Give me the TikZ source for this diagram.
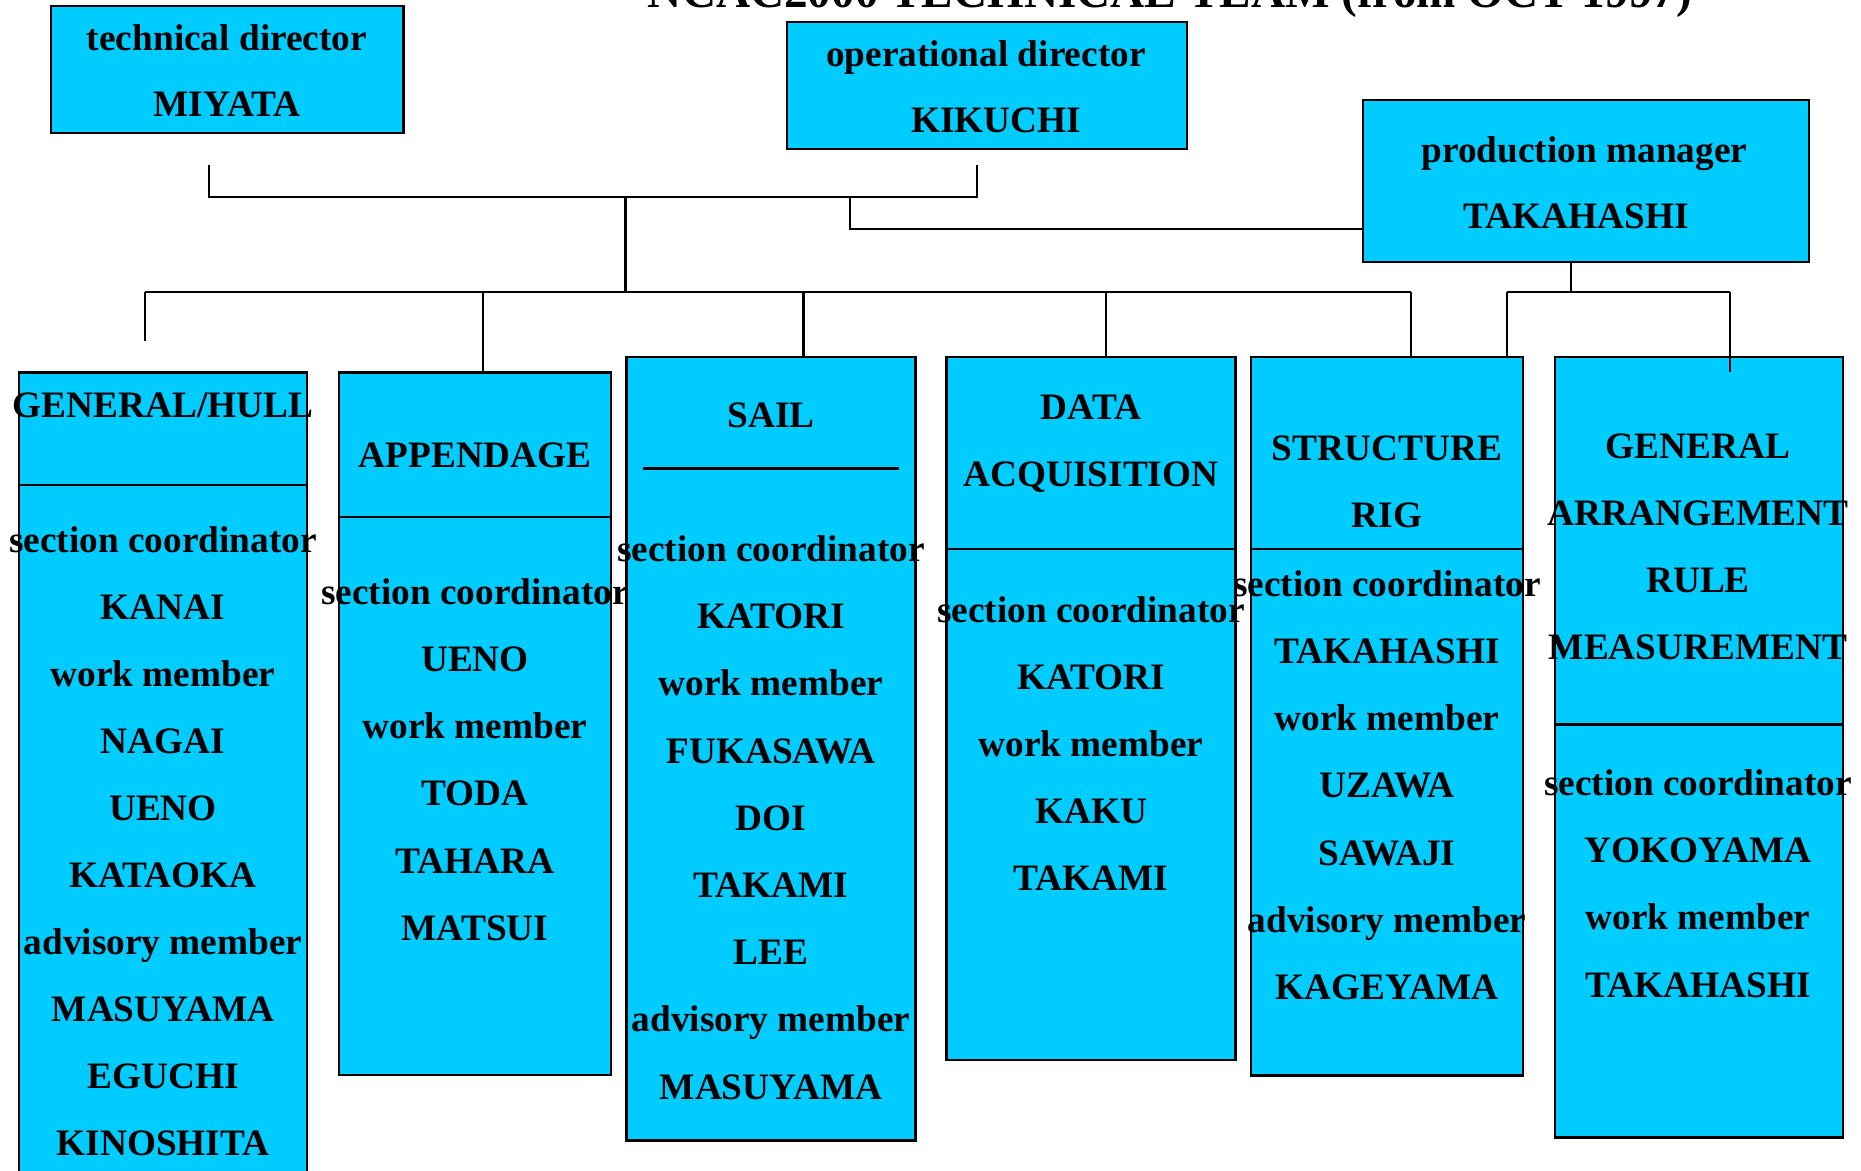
\documentclass[tikz,border=0pt]{standalone}
\usepackage{fontspec}
\setmainfont{Liberation Serif}
\definecolor{boxfill}{HTML}{00CCFF}
\tikzset{
  box/.style={draw=black, line width=1.25pt, fill=boxfill, rectangle, inner sep=0pt, outer sep=0pt, anchor=north west},
  conn/.style={draw=black, line width=1.2pt},
  lbl/.style={font=\fontsize{18.65}{20}\selectfont\bfseries, anchor=base, inner sep=0pt},
  ttl/.style={font=\fontsize{23.6}{26}\selectfont\bfseries, anchor=base, inner sep=0pt},
}
\begin{document}
\begin{tikzpicture}[x=0.5pt,y=-0.5pt]
\useasboundingbox (0,0) rectangle (1861,1171);
\clip (0,0) rectangle (1861,1171);

% title (mostly above the page)
\node[ttl] (title) at (1170,7.5) {NCAC2000 TECHNICAL TEAM (from OCT 1997)};

% top boxes
\node[box, minimum width=176.25pt, minimum height=63.5pt] (td) at (51,6) {};
\node[box, minimum width=200pt, minimum height=63.5pt] (od) at (787,22) {};
\node[box, minimum width=223pt, minimum height=81pt] (pm) at (1363,100) {};

\node[lbl] (td1) at (227,51) {technical director};
\node[lbl] (td2) at (227,116.7) {MIYATA};
\node[lbl] (od1) at (986,66.7) {operational director};
\node[lbl] (od2) at (996,132.7) {KIKUCHI};
\node[lbl] (pm1) at (1584.5,162.3) {production manager};
\node[lbl] (pm2) at (1576,229) {TAKAHASHI};

% section boxes
\node[box, minimum width=144pt, minimum height=413.65pt] (hull) at (19,372.7) {};
\node[box, minimum width=136pt, minimum height=351.15pt] (app) at (339,372.7) {};
\node[box, minimum width=144.3pt, minimum height=391.75pt] (sail) at (626.7,357) {};
\node[box, minimum width=144.5pt, minimum height=351.5pt] (data) at (946.5,357) {};
\node[box, minimum width=136pt, minimum height=359.25pt] (struct) at (1251,357) {};
\node[box, minimum width=144pt, minimum height=390.25pt] (ga) at (1555,357) {};

% dividers
\coordinate (hullDiv) at (0,485);
\coordinate (appDiv) at (0,516.7);
\coordinate (dataDiv) at (0,549);
\coordinate (structDiv) at (0,549);
\coordinate (gaDiv) at (0,724.5);
\draw[conn] (hull.west |- hullDiv) -- (hull.east |- hullDiv);
\draw[conn] (app.west |- appDiv) -- (app.east |- appDiv);
\draw[conn] (data.west |- dataDiv) -- (data.east |- dataDiv);
\draw[conn] (struct.west |- structDiv) -- (struct.east |- structDiv);
\draw[conn] (ga.west |- gaDiv) -- (ga.east |- gaDiv);
\coordinate (sailSepL) at (643,468.5);
\coordinate (sailSepR) at (898.5,468.5);
\draw[conn] (sailSepL) -- (sailSepR);

% texts: GENERAL/HULL
\node[lbl] (hullH) at (163,417) {GENERAL/HULL};
\foreach \t [count=\i from 0] in {section coordinator, KANAI, work member, NAGAI, UENO, KATAOKA, advisory member, MASUYAMA, EGUCHI, KINOSHITA}
  \node[lbl] (hull-\i) at (163,{552+67.1*\i}) {\t};

% APPENDAGE
\node[lbl] (appH) at (475,467.8) {APPENDAGE};
\foreach \t [count=\i from 0] in {section coordinator, UENO, work member, TODA, TAHARA, MATSUI}
  \node[lbl] (app-\i) at (475,{604.3+67.2*\i}) {\t};

% SAIL
\node[lbl] (sailH) at (771,427.4) {SAIL};
\foreach \t [count=\i from 0] in {section coordinator, KATORI, work member, FUKASAWA, DOI, TAKAMI, LEE, advisory member, MASUYAMA}
  \node[lbl] (sail-\i) at (771,{561.5+67.2*\i}) {\t};

% DATA ACQUISITION
\node[lbl] (dataH1) at (1091,419) {DATA};
\node[lbl] (dataH2) at (1091,486.8) {ACQUISITION};
\foreach \t [count=\i from 0] in {section coordinator, KATORI, work member, KAKU, TAKAMI}
  \node[lbl] (data-\i) at (1091,{622+67.1*\i}) {\t};

% STRUCTURE RIG
\node[lbl] (structH1) at (1387,460.7) {STRUCTURE};
\node[lbl] (structH2) at (1387,527) {RIG};
\foreach \t [count=\i from 0] in {section coordinator, TAKAHASHI, work member, UZAWA, SAWAJI, advisory member, KAGEYAMA}
  \node[lbl] (struct-\i) at (1387,{596+67.25*\i}) {\t};

% GENERAL ARRANGEMENT RULE MEASUREMENT
\foreach \t [count=\i from 0] in {GENERAL, ARRANGEMENT, RULE, MEASUREMENT}
  \node[lbl] (gaH-\i) at (1698,{458.3+67.2*\i}) {\t};
\foreach \t [count=\i from 0] in {section coordinator, YOKOYAMA, work member, TAKAHASHI}
  \node[lbl] (ga-\i) at (1698,{795.4+67.2*\i}) {\t};

% connectors
\coordinate (tdT) at (209,165);
\coordinate (tdB) at (209,197);
\coordinate (odT) at (977,165);
\coordinate (odB) at (977,197);
\draw[conn] (tdT) -- (tdB) -- (odB) -- (odT);

\coordinate (stemT) at (625.5,197);
\coordinate (stemB) at (625.5,292);
\draw[conn] (stemT) -- (stemB);

\coordinate (pj) at (850,197);
\coordinate (pjB) at (850,229);
\draw[conn] (pj) -- (pjB) -- (pm.west |- pjB);

\coordinate (barL) at (145,292);
\coordinate (barR) at (1411,292);
\draw[conn] (barL) -- (barR);
\coordinate (hullTick) at (145,340.6);
\draw[conn] (barL) -- (hullTick);
\coordinate (appJ) at (483,292);
\draw[conn] (appJ) -- (app.north -| appJ);
\coordinate (sailJ) at (803.5,292);
\draw[conn] (sailJ) -- (sail.north -| sailJ);
\coordinate (dataJ) at (1106,292);
\draw[conn] (dataJ) -- (data.north -| dataJ);
\draw[conn] (barR) -- (struct.north -| barR);

\coordinate (pmJ) at (1571,292);
\draw[conn] (pm.south -| pmJ) -- (pmJ);
\coordinate (pmL) at (1507,292);
\coordinate (pmR) at (1730,292);
\draw[conn] (pmL) -- (pmR);
\draw[conn] (pmL) -- (struct.north -| pmL);
\coordinate (gaTick) at (1730,372);
\draw[conn] (pmR) -- (gaTick);
\end{tikzpicture}
\end{document}
